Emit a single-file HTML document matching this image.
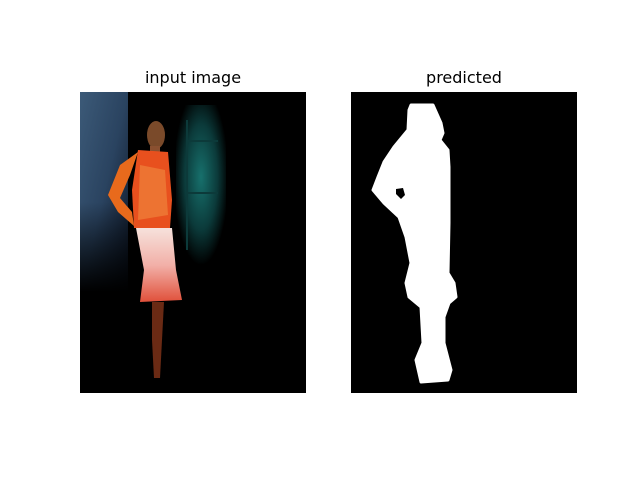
<!DOCTYPE html>
<html><head><meta charset="utf-8"><style>
html,body{margin:0;padding:0;background:#fff;}
svg{display:block;}
text{font-family:"DejaVu Sans","Liberation Sans",sans-serif;font-size:16px;fill:#000;}
</style></head><body>
<svg width="640" height="480" viewBox="0 0 640 480">
<defs>
<linearGradient id="blue" x1="0" y1="0" x2="1" y2="1">
<stop offset="0" stop-color="#3c5a78"/><stop offset="0.5" stop-color="#2a4360"/><stop offset="1" stop-color="#0a1220"/>
</linearGradient>
<linearGradient id="bluev" x1="0" y1="0" x2="0" y2="1">
<stop offset="0" stop-color="#000" stop-opacity="0"/><stop offset="0.55" stop-color="#000" stop-opacity="0"/><stop offset="1" stop-color="#000" stop-opacity="1"/>
</linearGradient>
<radialGradient id="teal" cx="0.5" cy="0.45" r="0.55">
<stop offset="0" stop-color="#17706c"/><stop offset="0.6" stop-color="#0b3a3a"/><stop offset="1" stop-color="#000"/>
</radialGradient>
<linearGradient id="skirt" x1="0" y1="0" x2="0" y2="1">
<stop offset="0" stop-color="#f6e2dc"/><stop offset="0.5" stop-color="#f2b0a8"/><stop offset="1" stop-color="#e0503a"/>
</linearGradient>
</defs>
<text x="193" y="83" text-anchor="middle">input image</text>
<text x="464" y="83" text-anchor="middle">predicted</text>
<g>
<rect x="80" y="92" width="226" height="301" fill="#000"/>
<rect x="80" y="92" width="48" height="200" fill="url(#blue)"/>
<rect x="80" y="92" width="48" height="200" fill="url(#bluev)"/>
<rect x="176" y="105" width="50" height="160" fill="url(#teal)"/>
<rect x="186" y="120" width="2" height="130" fill="#0c3a3a"/>
<rect x="188" y="140" width="30" height="2" fill="#0c3a3a"/>
<rect x="188" y="192" width="30" height="2" fill="#0c3a3a"/>
<ellipse cx="156" cy="135" rx="9" ry="14" fill="#7a4a2a"/>
<rect x="150" y="146" width="10" height="8" fill="#8a5030"/>
<path d="M138 150 L168 152 L172 200 L170 228 L134 228 L132 190 Z" fill="#e8501e"/>
<path d="M138 152 L120 165 L108 195 L118 212 L134 226 L132 212 L120 198 L130 175 Z" fill="#e86a1c"/>
<path d="M140 165 L165 170 L168 215 L138 220 Z" fill="#f08a40" opacity="0.6"/>
<path d="M136 228 L172 228 L176 270 L182 300 L140 302 L144 270 Z" fill="url(#skirt)"/>
<path d="M152 302 L164 302 L162 340 L160 378 L154 378 L152 340 Z" fill="#6a2a14"/>
</g>
<g>
<rect x="351" y="92" width="226" height="301" fill="#000"/>
<path d="M411 105 L433 105 L441 123 L443 133 L440 140 L448 150 L449 167 L449 223 L448 273 L454 283 L456 297 L449 303 L444 317 L444 343 L451 370 L448 380 L421 382 L416 360 L423 343 L421 307 L409 297 L406 283 L411 263 L406 237 L399 217 L384 203 L373 190 L378 177 L384 162 L394 147 L408 130 L409 110 Z" fill="#fff" stroke="#fff" stroke-width="3" stroke-linejoin="round"/>
<path d="M396 189 L403 188 L405 195 L401 199 L396 194 Z" fill="#000"/>
</g>
</svg>
</body></html>
